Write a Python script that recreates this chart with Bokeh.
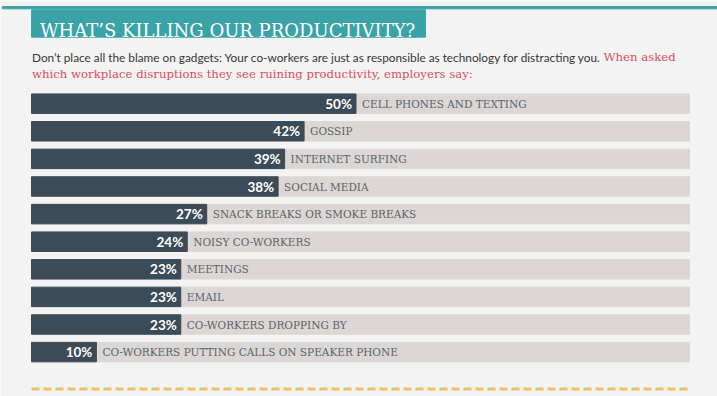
from bokeh.plotting import figure
from bokeh.models import Range1d, ColumnDataSource
from bokeh.core.properties import value
from bokeh.embed import file_html
from bokeh.resources import INLINE

# ---- data ----
categories = [
    "CELL PHONES AND TEXTING",
    "GOSSIP",
    "INTERNET SURFING",
    "SOCIAL MEDIA",
    "SNACK BREAKS OR SMOKE BREAKS",
    "NOISY CO-WORKERS",
    "MEETINGS",
    "EMAIL",
    "CO-WORKERS DROPPING BY",
    "CO-WORKERS PUTTING CALLS ON SPEAKER PHONE",
]
values = [50, 42, 39, 38, 27, 24, 23, 23, 23, 10]
pct_labels = [f"{v}%" for v in values]
rows = list(range(len(categories)))

title_text = "WHAT\u2019S KILLING OUR PRODUCTIVITY?"
sub_black = ("Don\u2019t place all the blame on gadgets: Your co-workers are just as "
             "responsible as technology for distracting you.")
sub_red1 = "When asked"
sub_red2 = "which workplace disruptions they see ruining productivity, employers say:"

# ---- colours ----
BG = "#f3f3f3"
TEAL = "#3aa3a8"
BAR = "#3c4b58"
TRACK = "#dcd7d5"
LABEL = "#5a636d"
RED = "#d9505c"
GOLD = "#e9c45e"

W, H = 717, 396
PX_PER_PCT = 6.49
X0 = 31            # pixel of 0 %
ROW0 = 103.2       # pixel centre of first row
ROW_STEP = 27.6

x_start = -X0 / PX_PER_PCT
x_end = (W - X0) / PX_PER_PCT
y_top = -ROW0 / ROW_STEP
y_bot = (H - ROW0) / ROW_STEP

p = figure(width=W, height=H, output_backend="svg", toolbar_location=None,
           x_range=Range1d(x_start, x_end), y_range=Range1d(y_bot, y_top),
           x_axis_location=None, y_axis_location=None, min_border=0,
           background_fill_color=BG, border_fill_color=BG,
           outline_line_color=None)
p.xgrid.visible = False
p.ygrid.visible = False
p.extra_x_ranges = {"px": Range1d(0, W)}
p.extra_y_ranges = {"px": Range1d(H, 0)}

# header
p.quad(left=[2], right=[W], top=[6], bottom=[8.3], color=TEAL,
       x_range_name="px", y_range_name="px")
p.quad(left=[31], right=[425], top=[9.3], bottom=[36.7], color=TEAL,
       x_range_name="px", y_range_name="px")
p.text(x=[39.5], y=[29.5], text=[title_text], text_color="white",
       text_font=value("DejaVu Serif"), text_font_size="18px",
       text_baseline="alphabetic", x_range_name="px", y_range_name="px")

p.text(x=[31.5], y=[56.8], text=[sub_black], text_color="#363636",
       text_font=value("Lato"), text_font_size="11.8px",
       text_baseline="middle", x_range_name="px", y_range_name="px")
p.text(x=[603], y=[56.8], text=[sub_red1], text_color=RED,
       text_font=value("DejaVu Serif"), text_font_size="11.7px",
       text_baseline="middle", x_range_name="px", y_range_name="px")
p.text(x=[31.5], y=[73.5], text=[sub_red2], text_color=RED,
       text_font=value("DejaVu Serif"), text_font_size="11.7px",
       text_baseline="middle", x_range_name="px", y_range_name="px")

# tracks
p.hbar(y=rows, left=X0, right=689, height=0.705, color=TRACK,
       x_range_name="px")

src = ColumnDataSource(dict(y=rows, v=values, pct=pct_labels, cat=categories))
p.hbar(y="y", left=0, right="v", height=0.705, color=BAR, source=src)
p.text(x="v", y="y", text="pct", x_offset=-4, text_align="right",
       text_baseline="middle", text_color="white",
       text_font=value("Lato"), text_font_style="bold",
       text_font_size="13.5px", source=src)
p.text(x="v", y="y", text="cat", x_offset=6, text_align="left",
       text_baseline="middle", text_color=LABEL,
       text_font=value("DejaVu Serif"), text_font_size="10.5px", source=src)

# dashed footer line
p.segment(x0=[31], x1=[690], y0=[388.5], y1=[388.5], line_color=GOLD,
          line_width=3, line_dash="8 4", x_range_name="px", y_range_name="px")

open("out.html", "w").write(file_html(p, INLINE))
